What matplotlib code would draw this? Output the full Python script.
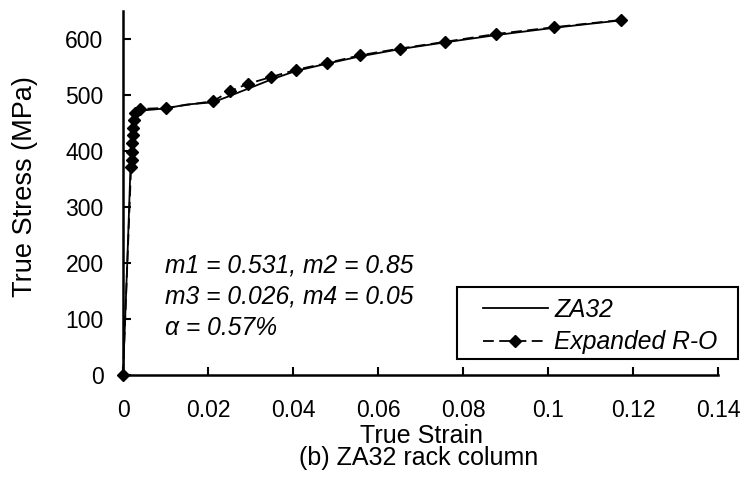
import matplotlib
matplotlib.use("Agg")
import matplotlib.pyplot as plt
from matplotlib.patches import Rectangle

plt.rcParams["font.family"] = ["Liberation Sans", "DejaVu Sans"]
plt.rcParams["font.size"] = 16.5

# Expanded R-O fit (diamond markers)
ro_strain = [0.0, 0.0019, 0.0020, 0.0021, 0.0022, 0.0023, 0.0024, 0.0026, 0.0028, 0.0040,
             0.0101, 0.0212, 0.0252, 0.0294, 0.0348, 0.0407, 0.0480, 0.0558, 0.0652,
             0.0758, 0.0878, 0.1014, 0.1172]
ro_stress = [0, 371, 384, 398, 414, 428, 441, 455, 468, 475,
             477, 489, 507, 520, 532, 545, 557, 571, 583,
             595, 609, 621, 634]

# ZA32 test curve (solid)
za_strain = [0.0, 0.0010, 0.0018, 0.0024, 0.0030, 0.0040, 0.0100, 0.0150, 0.0212,
             0.0250, 0.0300, 0.0350, 0.0407, 0.0480, 0.0558, 0.0652, 0.0758,
             0.0878, 0.1014, 0.1180]
za_stress = [0, 200, 380, 440, 465, 472, 476, 483, 487,
             498, 513, 528, 543, 556, 569, 582, 594, 607, 620, 634]

x_ticks = [0, 0.02, 0.04, 0.06, 0.08, 0.1, 0.12, 0.14]
x_tick_labels = ["0", "0.02", "0.04", "0.06", "0.08", "0.1", "0.12", "0.14"]
y_ticks = [0, 100, 200, 300, 400, 500, 600]

fit_params = ["m1 = 0.531, m2 = 0.85", "m3 = 0.026, m4 = 0.05", "\u03b1 = 0.57%"]

W, H = 748, 478
fig = plt.figure(figsize=(W / 100, H / 100), dpi=100)
ax = fig.add_axes([123 / W, 1 - 375 / H, 595 / W, 364 / H])

ax.plot(za_strain, za_stress, color="black", lw=1.3, label="ZA32")
ax.plot(ro_strain, ro_stress, color="black", lw=1.3, ls=(0, (6, 3)),
        marker="D", markersize=6.5, label="Expanded R-O", clip_on=False)

ax.set_xlim(0, 0.14)
ax.set_ylim(0, 650)
ax.set_xticks(x_ticks)
ax.set_xticklabels(x_tick_labels)
ax.set_yticks(y_ticks)
ax.tick_params(direction="in", length=6, width=1.5)
ax.tick_params(axis="x", pad=17)
ax.tick_params(axis="y", pad=14)
ax.spines["top"].set_visible(False)
ax.spines["right"].set_visible(False)
ax.spines["left"].set_linewidth(1.8)
ax.spines["bottom"].set_linewidth(1.8)

# axis titles placed in figure pixels
fig.text(25 / W, 1 - 187 / H, "True Stress (MPa)", rotation=90,
         ha="center", va="center", fontsize=19.5)
fig.text(422 / W, 1 - 443 / H, "True Strain", ha="center", va="baseline", fontsize=18)
fig.text(419 / W, 1 - 465 / H, "(b) ZA32 rack column", ha="center", va="baseline",
         fontsize=18)

# fit parameters
for i, line in enumerate(fit_params):
    fig.text(165 / W, 1 - (272 + 31.5 * i) / H, line, fontstyle="italic",
             ha="left", va="baseline", fontsize=17.7)

# legend with a square frame
fig.patches.append(Rectangle((457 / W, 1 - 359 / H), 281 / W, 72 / H,
                             transform=fig.transFigure, fill=False,
                             edgecolor="black", lw=1.5))
ax.legend(loc="center left", bbox_to_anchor=(483 / W, 1 - 326 / H),
          bbox_transform=fig.transFigure, borderaxespad=0, borderpad=0,
          frameon=False, handlelength=2.64, handletextpad=0.25,
          prop={"style": "italic", "size": 17.7}, labelspacing=0.35)

fig.savefig("out.png", dpi=100)
